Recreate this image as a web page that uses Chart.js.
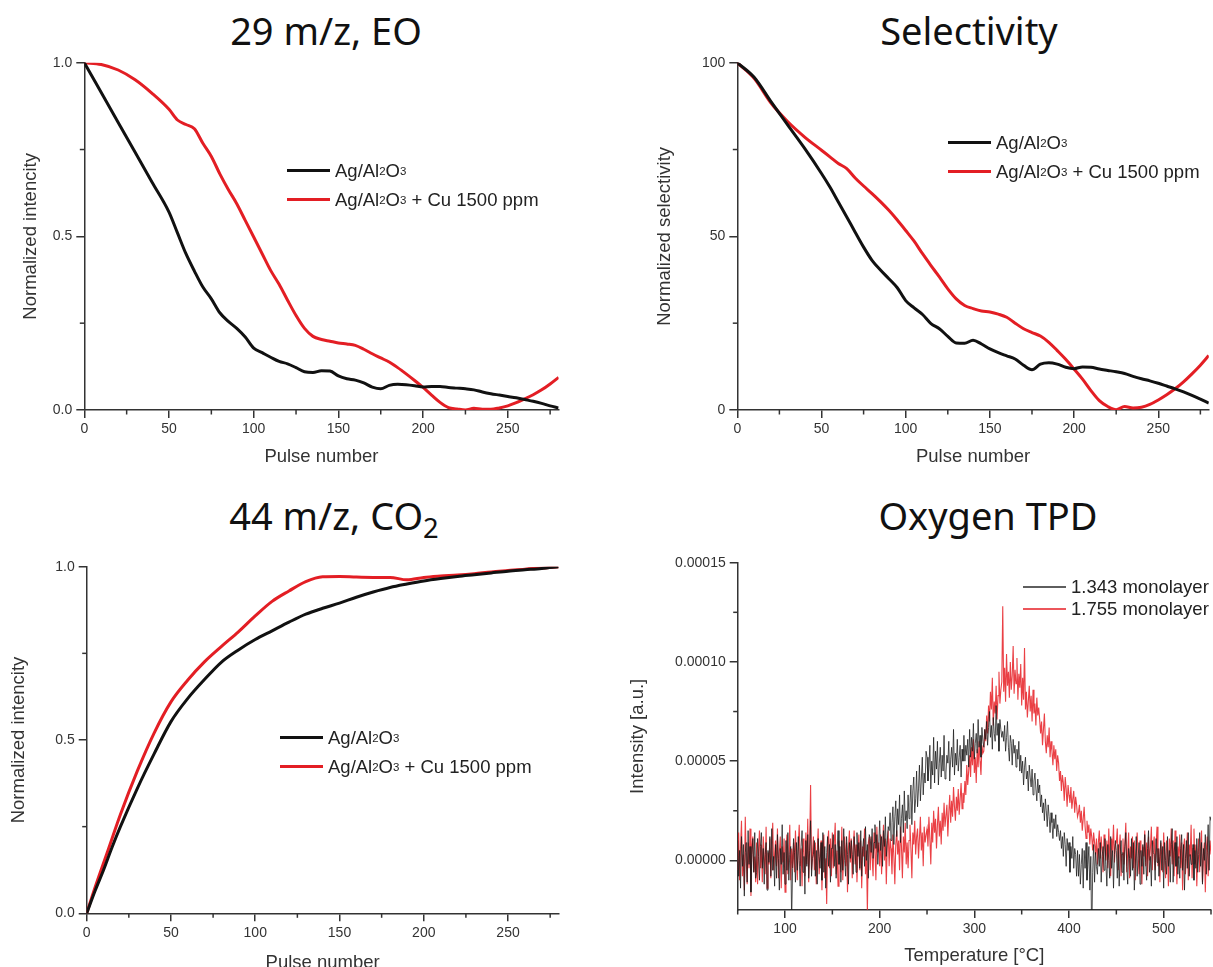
<!DOCTYPE html>
<html>
<head>
<meta charset="utf-8">
<script src="https://cdn.jsdelivr.net/npm/chart.js@4.4.1/dist/chart.umd.min.js"></script>
<style>
  html, body { margin: 0; padding: 0; background: #fff; overflow: hidden; }
  body { width: 1213px; height: 967px; position: relative; font-family: "Liberation Sans", Arial, sans-serif; }
  canvas { position: absolute; }
  .title { position: absolute; width: 600px; text-align: center; font-family: "Noto Sans", sans-serif;
           font-size: 38px; line-height: 38px; color: #111; white-space: nowrap; }
  .title sub { font-size: 0.72em; vertical-align: -0.3em; line-height: 0; }
  .legend { position: absolute; font-size: 18.5px; color: #222; }
  .legend .row { display: flex; align-items: center; height: 29px; white-space: nowrap; }
  .legend.thin .row { height: 22px; }
  .legend .sw { display: inline-block; width: 43px; height: 3px; margin-right: 5px; }
  .legend.thin .sw { height: 1.5px; }
  .legend sub { font-size: 0.62em; vertical-align: -0.3em; line-height: 0; }
</style>
</head>
<body>

<div class="title" style="left:26px;top:11px;">29 m/z, EO</div>
<div class="title" style="left:669px;top:11px;">Selectivity</div>
<div class="title" style="left:34px;top:496px;">44 m/z, CO<sub>2</sub></div>
<div class="title" style="left:688px;top:496px;">Oxygen TPD</div>

<canvas id="eoChart" width="606" height="480" style="left:0;top:0;"></canvas>
<canvas id="selChart" width="607" height="480" style="left:606px;top:0;"></canvas>
<canvas id="co2Chart" width="606" height="520" style="left:0;top:480px;"></canvas>
<canvas id="tpdChart" width="607" height="520" style="left:606px;top:480px;"></canvas>

<div class="legend" style="left:287px;top:156px;">
  <div class="row"><span class="sw" style="background:#111"></span>Ag/Al<sub>2</sub>O<sub>3</sub></div>
  <div class="row"><span class="sw" style="background:#e31e24"></span>Ag/Al<sub>2</sub>O<sub>3</sub>&nbsp;+ Cu 1500 ppm</div>
</div>
<div class="legend" style="left:948px;top:128px;">
  <div class="row"><span class="sw" style="background:#111"></span>Ag/Al<sub>2</sub>O<sub>3</sub></div>
  <div class="row"><span class="sw" style="background:#e31e24"></span>Ag/Al<sub>2</sub>O<sub>3</sub>&nbsp;+ Cu 1500 ppm</div>
</div>
<div class="legend" style="left:280px;top:723px;">
  <div class="row"><span class="sw" style="background:#111"></span>Ag/Al<sub>2</sub>O<sub>3</sub></div>
  <div class="row"><span class="sw" style="background:#e31e24"></span>Ag/Al<sub>2</sub>O<sub>3</sub>&nbsp;+ Cu 1500 ppm</div>
</div>
<div class="legend thin" style="left:1023px;top:576px;">
  <div class="row"><span class="sw" style="background:rgba(40,40,40,0.75)"></span>1.343 monolayer</div>
  <div class="row"><span class="sw" style="background:rgba(230,30,36,0.75)"></span>1.755 monolayer</div>
</div>

<script>
// ---- data ----
// 29 m/z, EO and Selectivity share the same pulse grid
const pulseTop = [0, 10, 20, 30, 40, 50, 55, 60, 65, 70, 75, 80, 85, 90, 95, 100, 105, 110, 115, 120,
  125, 130, 135, 140, 145, 150, 155, 160, 165, 170, 175, 180, 185, 190, 195, 200, 205, 210, 215, 220,
  225, 230, 235, 240, 245, 250, 255, 260, 265, 270, 275, 280];

const eoAg = [1.0, 0.914, 0.828, 0.742, 0.656, 0.57, 0.51, 0.45, 0.40, 0.354, 0.32, 0.28, 0.255, 0.235, 0.21, 0.178,
  0.165, 0.152, 0.14, 0.133, 0.122, 0.11, 0.108, 0.113, 0.112, 0.098, 0.09, 0.086, 0.078, 0.066, 0.061, 0.071,
  0.074, 0.073, 0.07, 0.066, 0.068, 0.068, 0.065, 0.063, 0.061, 0.058, 0.052, 0.047, 0.043, 0.039, 0.035, 0.03,
  0.025, 0.019, 0.012, 0.006];
const eoAgCu = [1.0, 0.995, 0.979, 0.951, 0.912, 0.866, 0.835, 0.822, 0.81, 0.768, 0.73, 0.68, 0.635, 0.594, 0.546, 0.498,
  0.45, 0.402, 0.362, 0.316, 0.272, 0.235, 0.212, 0.203, 0.198, 0.193, 0.19, 0.186, 0.175, 0.162, 0.15, 0.138,
  0.122, 0.104, 0.085, 0.065, 0.043, 0.022, 0.007, 0.003, 0.0, 0.005, 0.002, 0.002, 0.006, 0.012, 0.021, 0.032,
  0.044, 0.058, 0.075, 0.094];

const selAg = [100, 95.8, 88.8, 82, 75.3, 68.1, 64.2, 59.9, 55.6, 51.2, 46.9, 43.1, 40.3, 37.8, 35.2, 31.5,
  29.4, 27.5, 24.9, 23.4, 21.2, 19.3, 19.2, 20.1, 19.0, 17.6, 16.5, 15.6, 14.7, 12.9, 11.6, 13.2,
  13.6, 13.2, 12.3, 11.9, 12.4, 12.3, 11.8, 11.4, 11.0, 10.5, 9.7, 9.0, 8.4, 7.7, 6.9, 6.1,
  5.2, 4.2, 3.1, 2.0];
const selAgCu = [100, 95.5, 88.4, 83, 78.6, 74.8, 72.9, 71.0, 69.5, 66.8, 64.5, 62.3, 60.0, 57.5, 54.7, 51.7,
  48.6, 45.0, 41.6, 38.3, 34.9, 32.0, 30.1, 29.2, 28.5, 28.2, 27.6, 26.7, 25.0, 23.4, 22.3, 21.3,
  19.5, 17.1, 14.6, 11.8, 8.9, 5.6, 2.7, 1.0, 0.1, 1.0, 0.6, 0.8, 1.6, 2.9, 4.4, 6.1,
  8.1, 10.4, 12.9, 15.7];

// 44 m/z, CO2
const pulseCo2 = [0, 5, 10, 15, 20, 30, 40, 50, 60, 70, 80, 90, 100, 110, 120, 130, 140, 150, 160, 170,
  180, 190, 200, 210, 220, 230, 240, 250, 260, 270, 280];
const co2Ag = [0, 0.065, 0.125, 0.19, 0.25, 0.36, 0.46, 0.553, 0.62, 0.675, 0.725, 0.76, 0.79, 0.815, 0.84, 0.863,
  0.88, 0.895, 0.912, 0.927, 0.94, 0.95, 0.959, 0.966, 0.972, 0.977, 0.982, 0.987, 0.991, 0.995, 1.0];
const co2AgCu = [0, 0.075, 0.145, 0.215, 0.285, 0.41, 0.52, 0.61, 0.673, 0.726, 0.77, 0.812, 0.858, 0.9, 0.93, 0.957,
  0.971, 0.972, 0.97, 0.969, 0.969, 0.962, 0.969, 0.973, 0.976, 0.98, 0.985, 0.989, 0.993, 0.996, 1.0];

// Oxygen TPD, one reading per °C, intensity in units of 1e-6 a.u.
const tpdTemp = [
  50, 51, 52, 53, 54, 55, 56, 57, 58, 59, 60, 61, 62, 63, 64, 65, 66, 67, 68, 69,
  70, 71, 72, 73, 74, 75, 76, 77, 78, 79, 80, 81, 82, 83, 84, 85, 86, 87, 88, 89,
  90, 91, 92, 93, 94, 95, 96, 97, 98, 99, 100, 101, 102, 103, 104, 105, 106, 107, 108, 109,
  110, 111, 112, 113, 114, 115, 116, 117, 118, 119, 120, 121, 122, 123, 124, 125, 126, 127, 128, 129,
  130, 131, 132, 133, 134, 135, 136, 137, 138, 139, 140, 141, 142, 143, 144, 145, 146, 147, 148, 149,
  150, 151, 152, 153, 154, 155, 156, 157, 158, 159, 160, 161, 162, 163, 164, 165, 166, 167, 168, 169,
  170, 171, 172, 173, 174, 175, 176, 177, 178, 179, 180, 181, 182, 183, 184, 185, 186, 187, 188, 189,
  190, 191, 192, 193, 194, 195, 196, 197, 198, 199, 200, 201, 202, 203, 204, 205, 206, 207, 208, 209,
  210, 211, 212, 213, 214, 215, 216, 217, 218, 219, 220, 221, 222, 223, 224, 225, 226, 227, 228, 229,
  230, 231, 232, 233, 234, 235, 236, 237, 238, 239, 240, 241, 242, 243, 244, 245, 246, 247, 248, 249,
  250, 251, 252, 253, 254, 255, 256, 257, 258, 259, 260, 261, 262, 263, 264, 265, 266, 267, 268, 269,
  270, 271, 272, 273, 274, 275, 276, 277, 278, 279, 280, 281, 282, 283, 284, 285, 286, 287, 288, 289,
  290, 291, 292, 293, 294, 295, 296, 297, 298, 299, 300, 301, 302, 303, 304, 305, 306, 307, 308, 309,
  310, 311, 312, 313, 314, 315, 316, 317, 318, 319, 320, 321, 322, 323, 324, 325, 326, 327, 328, 329,
  330, 331, 332, 333, 334, 335, 336, 337, 338, 339, 340, 341, 342, 343, 344, 345, 346, 347, 348, 349,
  350, 351, 352, 353, 354, 355, 356, 357, 358, 359, 360, 361, 362, 363, 364, 365, 366, 367, 368, 369,
  370, 371, 372, 373, 374, 375, 376, 377, 378, 379, 380, 381, 382, 383, 384, 385, 386, 387, 388, 389,
  390, 391, 392, 393, 394, 395, 396, 397, 398, 399, 400, 401, 402, 403, 404, 405, 406, 407, 408, 409,
  410, 411, 412, 413, 414, 415, 416, 417, 418, 419, 420, 421, 422, 423, 424, 425, 426, 427, 428, 429,
  430, 431, 432, 433, 434, 435, 436, 437, 438, 439, 440, 441, 442, 443, 444, 445, 446, 447, 448, 449,
  450, 451, 452, 453, 454, 455, 456, 457, 458, 459, 460, 461, 462, 463, 464, 465, 466, 467, 468, 469,
  470, 471, 472, 473, 474, 475, 476, 477, 478, 479, 480, 481, 482, 483, 484, 485, 486, 487, 488, 489,
  490, 491, 492, 493, 494, 495, 496, 497, 498, 499, 500, 501, 502, 503, 504, 505, 506, 507, 508, 509,
  510, 511, 512, 513, 514, 515, 516, 517, 518, 519, 520, 521, 522, 523, 524, 525, 526, 527, 528, 529,
  530, 531, 532, 533, 534, 535, 536, 537, 538, 539, 540, 541, 542, 543, 544, 545, 546, 547, 548, 549,
  550];
const tpd1343 = [
  10, -8, 5, -14, 12, -3, 8, -18, 4, 9, -11, 15, -2, 7, -16, 3, 11, -6, 14, -9,
  -6, 11, 2, -10, 7, 14, -4, 6, -12, 3, 9, -15, 5, -1, 12, -8, 16, -5, 2, -13,
  8, -9, 13, 1, -15, 6, -2, 18, -7, 4, -12, 10, -5, 14, -10, 3, 7, -30, -4, 11,
  4, -11, 9, -5, 12, 0, -13, 7, 15, -6, 2, -17, 10, -3, 13, -9, 5, 20, -8, 1,
  3, 10, -8, 5, -12, 11, 2, -4, 9, -10, 14, -6, 7, -14, 4, 12, -3, 8, -11, 6,
  6, 13, -3, 8, -9, 4, 15, -2, 7, -11, 10, -5, 16, 0, -8, 12, 3, -12, 9, 1,
  10, 3, -7, 12, 5, -6, 14, 2, 9, -4, 15, -8, 6, 11, -3, 17, 0, 8, -9, 13,
  11, 4, 16, 1, 9, 18, 6, 13, -2, 8, 20, 5, 12, -3, 15, 7, 22, 2, 10, 17,
  15, 24, 10, 19, 27, 8, 22, 30, 12, 26, 18, 33, 9, 21, 28, 14, 35, 20, 25, 16,
  33, 21, 29, 38, 18, 35, 42, 24, 31, 45, 27, 36, 48, 30, 41, 52, 33, 44, 39, 55,
  52, 40, 47, 58, 36, 50, 43, 62, 39, 55, 46, 60, 38, 49, 57, 42, 53, 45, 63, 41,
  44, 53, 49, 60, 40, 51, 57, 47, 66, 43, 54, 48, 61, 45, 52, 58, 42, 56, 50, 63,
  50, 58, 53, 61, 47, 66, 52, 62, 55, 69, 51, 59, 64, 54, 71, 57, 63, 52, 67, 60,
  57, 66, 61, 70, 58, 67, 75, 62, 68, 56, 72, 64, 60, 78, 63, 69, 55, 71, 66, 62,
  65, 60, 68, 55, 62, 70, 57, 50, 63, 59, 48, 61, 54, 58, 47, 56, 51, 60, 45, 53,
  44, 50, 38, 47, 52, 41, 45, 35, 48, 42, 37, 46, 33, 40, 44, 36, 30, 41, 34, 38,
  27, 33, 24, 29, 20, 31, 25, 17, 28, 22, 14, 24, 19, 11, 21, 16, 23, 12, 18, 14,
  10, 15, 6, 12, 2, 14, 8, -3, 11, 5, 9, -6, 7, 1, 12, -4, 6, 3, -8, 5,
  -8, 3, -12, -2, 6, -14, 5, -4, 9, -10, -2, 7, -15, 2, -40, -6, 8, -11, 4, -3,
  -7, 6, -3, 9, -11, 2, 7, -5, 11, -2, -13, 8, 0, -9, 12, -4, 5, -14, 3, 10,
  5, -9, 8, -13, 3, 10, -6, 4, -10, 7, 14, -3, -12, 6, 1, -8, 11, -5, 9, -15,
  -4, 12, -8, 1, 9, -12, 5, -3, 8, -7, 13, -1, -10, 6, 15, -6, 2, -13, 10, 4,
  3, -10, 11, -1, 6, -8, 2, 10, -5, 7, -14, 9, 0, -7, 12, -3, 5, -11, 8, 16,
  -11, 4, 9, -3, 12, -7, 2, -9, 6, 13, -5, 8, -15, 1, 10, -4, 14, -8, 3, -2,
  -2, 8, -10, 5, -4, 11, -6, 3, 14, -3, 9, -12, 6, 0, 13, -7, 4, 18, -5, 22,
  20];
const tpd1755 = [
  -5, 14, -10, 6, 20, -8, 3, -15, 22, 1, -12, 9, -4, 16, -18, 7, 12, -6, 2, -11,
  9, -12, 5, 15, -4, 8, -11, 12, 2, -7, 17, -14, 4, -2, 11, -9, 6, 19, -5, 3,
  10, -3, 16, -9, 4, 12, -14, 7, -1, 11, -16, 5, 13, -7, 2, 18, -10, 6, -4, 9,
  -6, 15, 2, -10, 8, 18, -3, 6, -13, 11, 4, -8, 14, -2, 21, -11, 7, 38, -5, 3,
  12, -5, 9, -12, 4, 16, -7, 2, 10, -15, 6, 13, -9, 1, -22, 8, 15, -4, 11, -8,
  14, -4, 8, 19, -7, 5, -13, 10, 3, -6, 17, -10, 2, 12, -3, 9, -16, 6, 15, -1,
  11, -9, 6, 15, -2, 8, -11, 4, 13, -5, 10, -14, 7, 2, 16, -7, 5, -26, 9, 12,
  -5, 12, 2, -8, 14, 5, -10, 17, 4, 9, -3, 13, -7, 6, 18, 0, 11, -12, 8, 15,
  -3, 11, 6, -7, 13, 2, -12, 8, 15, 3, 10, -5, 17, 7, -9, 12, 4, 19, -2, 9,
  -4, 10, 18, 6, -9, 14, 8, 20, 3, 12, 16, 1, 11, 22, 5, 14, -3, 17, 9, 13,
  16, 7, 22, 11, -2, 19, 9, 25, 14, 21, 6, 18, 27, 12, 20, 8, 24, 15, 29, 17,
  17, 28, 12, 24, 33, 19, 30, 22, 37, 27, 20, 32, 25, 36, 23, 31, 39, 26, 34, 29,
  40, 33, 48, 38, 45, 53, 42, 57, 48, 61, 44, 52, 39, 56, 47, 60, 50, 43, 58, 54,
  55, 66, 60, 73, 64, 78, 70, 85, 76, 92, 68, 80, 74, 88, 71, 83, 95, 79, 86, 90,
  128, 85, 97, 80, 104, 88, 95, 82, 100, 86, 93, 108, 84, 96, 89, 102, 81, 94, 87, 99,
  78, 92, 81, 107, 76, 85, 72, 80, 88, 75, 83, 70, 86, 74, 79, 68, 82, 73, 77, 71,
  64, 70, 58, 66, 74, 60, 54, 63, 57, 67, 52, 60, 55, 48, 58, 51, 56, 45, 53, 49,
  40, 45, 35, 43, 39, 30, 42, 36, 27, 38, 33, 29, 37, 26, 31, 35, 24, 32, 28, 22,
  24, 28, 19, 25, 15, 21, 27, 17, 11, 20, 14, 18, 8, 16, 12, 5, 14, 9, 3, 11,
  -2, 9, 15, 1, 12, 4, -6, 13, 7, 0, 10, -4, 16, 3, -8, 11, 5, 18, -1, 8,
  9, 16, -5, 6, 13, -8, 3, 11, -2, 8, 19, -6, 4, 14, -9, 7, 1, 12, -4, 10,
  -10, 5, 14, 1, -7, 10, 4, -12, 7, 2, 15, -3, 9, -8, 12, 0, 6, 17, -5, 8,
  12, -5, 8, 17, -3, 6, -11, 9, 3, -6, 14, 1, -9, 10, 5, -13, 11, 2, 16, -2,
  10, -8, 15, 4, -12, 7, 1, 13, -4, 9, -15, 6, 11, -7, 3, 14, -10, 8, 2, 18,
  -9, 6, 16, -2, 8, -13, 4, 11, -6, 7, 15, -11, 3, 9, -16, 5, 12, -8, 1, 10,
  3];

// ---- tick values / labels ----
const pulseTicks = [0, 50, 100, 150, 200, 250];
const pulseLabels = ['0', '50', '100', '150', '200', '250'];
const pulseMinor = [25, 75, 125, 175, 225, 275];
const normTicks = [0, 0.5, 1.0];
const normLabels = ['0.0', '0.5', '1.0'];
const normMinor = [0.25, 0.75];
const selTicks = [0, 50, 100];
const selLabels = ['0', '50', '100'];
const selMinor = [25, 75];
const tempTicks = [100, 200, 300, 400, 500];
const tempLabels = ['100', '200', '300', '400', '500'];
const tempMinor = [50, 150, 250, 350, 450, 550];
const tpdTicks = [0, 0.00005, 0.0001, 0.00015];
const tpdLabels = ['0.00000', '0.00005', '0.00010', '0.00015'];
const tpdMinor = [0.000025, 0.000075, 0.000125];

// ---- look ----
const AXIS = '#333';
const TEXT = '#333';
const RED = '#e31e24';
const BLACK = '#111';
const FONT = '"Liberation Sans", Arial, sans-serif';

// short outward minor ticks, placed by the chart's own scales
const minorTicks = {
  id: 'minorTicks',
  afterDraw(chart, args, opts) {
    const ctx = chart.ctx;
    const xs = chart.scales.x, ys = chart.scales.y;
    ctx.save();
    ctx.strokeStyle = AXIS;
    ctx.lineWidth = 1.5;
    (opts.x || []).forEach(function(v) {
      const px = xs.getPixelForValue(v);
      ctx.beginPath(); ctx.moveTo(px, xs.top); ctx.lineTo(px, xs.top + 4.5); ctx.stroke();
    });
    (opts.y || []).forEach(function(v) {
      const py = ys.getPixelForValue(v);
      ctx.beginPath(); ctx.moveTo(ys.right, py); ctx.lineTo(ys.right - 4.5, py); ctx.stroke();
    });
    ctx.restore();
  }
};

function points(xs, ys, scale) {
  return xs.map(function(x, i) { return { x: x, y: ys[i] * (scale || 1) }; });
}

function axis(o) {
  return {
    type: 'linear',
    min: o.min,
    max: o.max,
    afterBuildTicks: function(s) { s.ticks = o.ticks.map(function(v) { return { value: v }; }); },
    afterFit: function(s) { if (o.width) s.width = o.width; if (o.height) s.height = o.height; },
    grid: { display: true, drawOnChartArea: false, drawTicks: true, tickLength: 8, color: AXIS, lineWidth: 1.5 },
    border: { display: true, color: AXIS, width: 1.5 },
    ticks: {
      autoSkip: false, maxRotation: 0, padding: o.tickPad,
      color: TEXT, font: { family: FONT, size: 14 },
      callback: function(v, i) { return o.labels[i]; }
    },
    title: {
      display: true, text: o.title, color: TEXT, font: { family: FONT, size: 18.5 },
      padding: o.titlePad
    }
  };
}

function makeChart(id, cfg) {
  return new Chart(document.getElementById(id), {
    type: 'line',
    data: { datasets: cfg.datasets },
    options: {
      responsive: false,
      animation: false,
      events: [],
      layout: { padding: cfg.padding },
      plugins: {
        legend: { display: false },
        tooltip: { enabled: false },
        minorTicks: { x: cfg.xMinor, y: cfg.yMinor }
      },
      scales: { x: cfg.x, y: cfg.y }
    },
    plugins: [minorTicks]
  });
}

function pulseSet(xs, ys, color) {
  return { data: points(xs, ys), borderColor: color, borderWidth: 3, pointRadius: 0,
           cubicInterpolationMode: 'monotone', fill: false };
}

// 29 m/z, EO
makeChart('eoChart', {
  padding: { left: 0, right: 47.4, top: 62.7, bottom: 0 },
  datasets: [pulseSet(pulseTop, eoAg, BLACK), pulseSet(pulseTop, eoAgCu, RED)],
  x: axis({ min: 0, max: 280, ticks: pulseTicks, labels: pulseLabels, height: 70, tickPad: 3,
            title: 'Pulse number', titlePad: { top: 0, bottom: 12.2 } }),
  y: axis({ min: 0, max: 1, ticks: normTicks, labels: normLabels, width: 84.3, tickPad: 4,
            title: 'Normalized intencity', titlePad: { top: 20.2, bottom: 0 } }),
  xMinor: pulseMinor, yMinor: normMinor
});

// Selectivity
makeChart('selChart', {
  padding: { left: 0, right: 4.2, top: 62.7, bottom: 0 },
  datasets: [pulseSet(pulseTop, selAg, BLACK), pulseSet(pulseTop, selAgCu, RED)],
  x: axis({ min: 0, max: 280, ticks: pulseTicks, labels: pulseLabels, height: 70, tickPad: 3,
            title: 'Pulse number', titlePad: { top: 0, bottom: 12.2 } }),
  y: axis({ min: 0, max: 100, ticks: selTicks, labels: selLabels, width: 131.3, tickPad: 4,
            title: 'Normalized selectivity', titlePad: { top: 47.8, bottom: 0 } }),
  xMinor: pulseMinor, yMinor: selMinor
});

// 44 m/z, CO2
makeChart('co2Chart', {
  padding: { left: 0, right: 47.4, top: 86.7, bottom: 0 },
  datasets: [pulseSet(pulseCo2, co2Ag, BLACK), pulseSet(pulseCo2, co2AgCu, RED)],
  x: axis({ min: 0, max: 280, ticks: pulseTicks, labels: pulseLabels, height: 86.7, tickPad: 3,
            title: 'Pulse number', titlePad: { top: 0, bottom: 26 } }),
  y: axis({ min: 0, max: 1, ticks: normTicks, labels: normLabels, width: 86.7, tickPad: 4,
            title: 'Normalized intencity', titlePad: { top: 8.2, bottom: 0 } }),
  xMinor: pulseMinor, yMinor: normMinor
});

// Oxygen TPD
makeChart('tpdChart', {
  padding: { left: 0, right: 2, top: 82.7, bottom: 0 },
  datasets: [
    { data: points(tpdTemp, tpd1343, 1e-6), borderColor: 'rgba(25,25,25,0.75)', borderWidth: 1,
      pointRadius: 0, tension: 0, fill: false },
    { data: points(tpdTemp, tpd1755, 1e-6), borderColor: 'rgba(230,30,36,0.85)', borderWidth: 1.1,
      pointRadius: 0, tension: 0, fill: false }
  ],
  x: axis({ min: 50, max: 550, ticks: tempTicks, labels: tempLabels, height: 90, tickPad: 3,
            title: 'Temperature [°C]', titlePad: { top: 0, bottom: 32.5 } }),
  y: axis({ min: -0.000025, max: 0.00015, ticks: tpdTicks, labels: tpdLabels, width: 131.7, tickPad: 4,
            title: 'Intensity [a.u.]', titlePad: { top: 20.4, bottom: 0 } }),
  xMinor: tempMinor, yMinor: tpdMinor
});
</script>
</body>
</html>
